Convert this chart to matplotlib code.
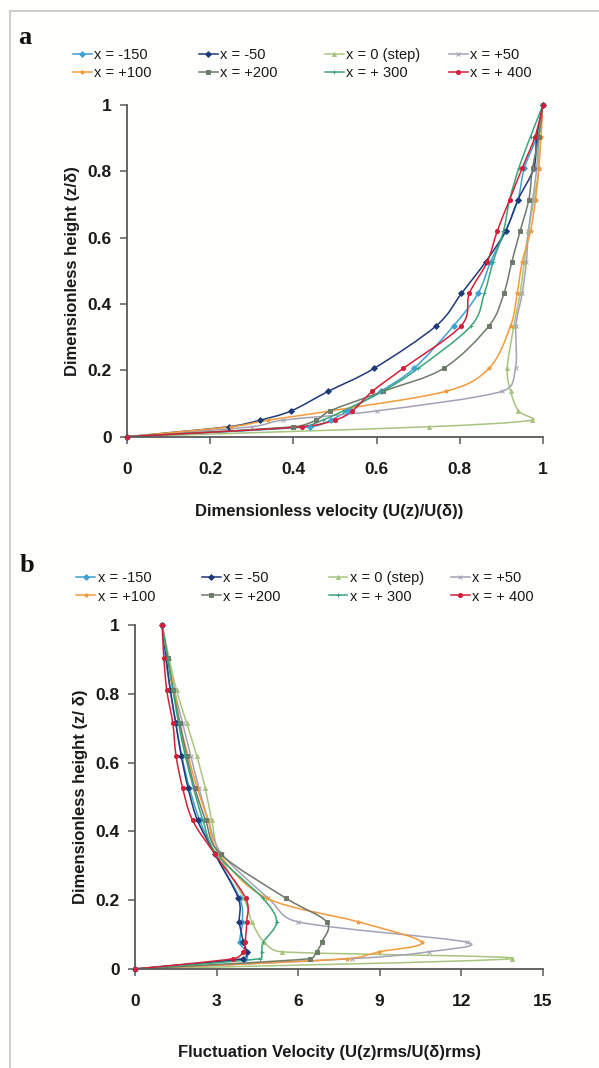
import numpy as np
import matplotlib
matplotlib.use("Agg")
import matplotlib.pyplot as plt
from matplotlib.path import Path
from matplotlib.patches import PathPatch
from matplotlib.lines import Line2D

# ---------------- data ----------------
series_labels = ['x = -150', 'x = -50', 'x = 0 (step)', 'x = +50',
                 'x = +100', 'x = +200', 'x = + 300', 'x = + 400']
series_colors = ['#3fa0d4', '#1f3a78', '#a9c47f', '#a2a2b6',
                 '#f39a3c', '#6e7a6a', '#3aa57a', '#d3203a']
series_markers = ['D', 'D', '^', 'x', '*', 's', '+', 'o']

z_levels = [0, 0.03, 0.05, 0.078, 0.137, 0.206, 0.334, 0.432, 0.527, 0.62, 0.715, 0.81, 0.905, 1.0]

# panel a : dimensionless velocity U(z)/U(delta)
vel_m150 = [0, 0.44, 0.49, 0.53, 0.61, 0.69, 0.785, 0.844, 0.874, 0.91, 0.94, 0.955, 0.985, 1.0]
vel_m50 = [0, 0.244, 0.32, 0.395, 0.484, 0.594, 0.743, 0.804, 0.862, 0.91, 0.94, 0.978, 0.985, 1.0]
vel_step = [0, 0.725, 0.973, 0.941, 0.922, 0.914, 0.93, 0.945, 0.955, 0.965, 0.978, 0.99, 0.99, 1.0]
vel_p50 = [0, 0.30, 0.375, 0.602, 0.902, 0.934, 0.935, 0.95, 0.96, 0.965, 0.975, 0.985, 0.99, 1.0]
vel_p100 = [0, 0.25, 0.34, 0.49, 0.767, 0.870, 0.922, 0.938, 0.95, 0.97, 0.982, 0.99, 0.995, 1.0]
vel_p200 = [0, 0.40, 0.455, 0.488, 0.616, 0.761, 0.870, 0.906, 0.925, 0.945, 0.966, 0.975, 0.99, 1.0]
vel_p300 = [0, 0.42, 0.47, 0.52, 0.615, 0.70, 0.827, 0.859, 0.88, 0.905, 0.92, 0.942, 0.97, 1.0]
vel_p400 = [0, 0.42, 0.50, 0.542, 0.59, 0.664, 0.803, 0.823, 0.866, 0.89, 0.92, 0.95, 0.981, 1.0]

# panel b : fluctuation velocity U(z)rms/U(delta)rms
flu_m150 = [0, 4.05, 4.11, 3.86, 3.95, 3.85, 2.95, 2.38, 2.0, 1.72, 1.5, 1.3, 1.12, 1.0]
flu_m50 = [0, 3.99, 4.11, 3.99, 3.84, 3.80, 2.94, 2.3, 1.95, 1.7, 1.5, 1.3, 1.15, 1.0]
flu_step = [0, 13.86, 5.4, 4.75, 4.3, 4.0, 3.1, 2.82, 2.58, 2.27, 1.9, 1.53, 1.25, 1.0]
flu_p50 = [0, 8.0, 10.8, 12.2, 6.0, 4.9, 3.2, 2.7, 2.35, 2.05, 1.75, 1.45, 1.2, 1.0]
flu_p100 = [0, 7.8, 8.99, 10.55, 8.22, 4.85, 3.1, 2.69, 2.29, 1.95, 1.65, 1.45, 1.2, 1.0]
flu_p200 = [0, 6.44, 6.68, 6.87, 7.05, 5.55, 3.15, 2.6, 2.2, 1.9, 1.65, 1.4, 1.2, 1.0]
flu_p300 = [0, 4.6, 4.66, 4.72, 5.21, 4.7, 3.0, 2.5, 2.15, 1.85, 1.6, 1.4, 1.2, 1.0]
flu_p400 = [0, 3.62, 3.99, 4.05, 4.11, 4.07, 2.94, 2.12, 1.75, 1.51, 1.39, 1.17, 1.06, 1.0]

vel_series = [vel_m150, vel_m50, vel_step, vel_p50, vel_p100, vel_p200, vel_p300, vel_p400]
flu_series = [flu_m150, flu_m50, flu_step, flu_p50, flu_p100, flu_p200, flu_p300, flu_p400]

height_ticks = [0, 0.2, 0.4, 0.6, 0.8, 1.0]
height_tick_labels = ['0', '0.2', '0.4', '0.6', '0.8', '1']
vel_ticks = [0, 0.2, 0.4, 0.6, 0.8, 1.0]
vel_tick_labels = ['0', '0.2', '0.4', '0.6', '0.8', '1']
flu_ticks = [0, 3, 6, 9, 12, 15]
flu_tick_labels = ['0', '3', '6', '9', '12', '15']

# ---------------- style ----------------
plt.rcParams['font.family'] = ['Liberation Sans', 'DejaVu Sans']
W, H = 599, 1068
fig = plt.figure(figsize=(W / 100, H / 100), dpi=100)
fig.patch.set_facecolor('#fefefc')

AXC = '#5a5a5a'


def smooth_path(xs, ys, sx, sy, k=1 / 6.0):
    """Excel-like smoothed line through the points (cubic Bezier segments)."""
    P = np.column_stack([np.asarray(xs, float) * sx, np.asarray(ys, float) * sy])
    n = len(P)
    verts = [P[0]]
    codes = [Path.MOVETO]
    for i in range(n - 1):
        p0 = P[i - 1] if i > 0 else P[i]
        p1, p2 = P[i], P[i + 1]
        p3 = P[i + 2] if i + 2 < n else P[i + 1]
        seg = np.hypot(*(p2 - p1))
        a1 = (p2 - p0) * k
        a2 = (p3 - p1) * k
        l1, l2 = np.hypot(*a1), np.hypot(*a2)
        if l1 > 0.5 * seg:
            a1 = a1 * (0.5 * seg / l1)
        if l2 > 0.5 * seg:
            a2 = a2 * (0.5 * seg / l2)
        verts += [p1 + a1, p2 - a2, p2]
        codes += [Path.CURVE4] * 3
    V = np.array(verts) / [sx, sy]
    return Path(V, codes)


def draw_panel(ax, xseries, xmax, xticks, xticklabels, px_w, px_h, xlabel, ylabel, xl_pos, yl_x):
    sx = px_w / xmax
    sy = px_h / 1.0
    for vals, col, mk in zip(xseries, series_colors, series_markers):
        path = smooth_path(vals, z_levels, sx, sy)
        ax.add_patch(PathPatch(path, facecolor='none', edgecolor=col, lw=1.1, zorder=2))
        ax.plot(vals, z_levels, ls='none', marker=mk, ms=2.9, color=col,
                mec=col, mew=0.7, zorder=3, clip_on=False)
    ax.set_xlim(0, xmax)
    ax.set_ylim(0, 1)
    ax.set_xticks(xticks)
    ax.set_xticklabels(xticklabels)
    ax.set_yticks(height_ticks)
    ax.set_yticklabels(height_tick_labels)
    for s in ['top', 'right']:
        ax.spines[s].set_visible(False)
    for s in ['left', 'bottom']:
        ax.spines[s].set_color(AXC)
        ax.spines[s].set_linewidth(1.3)
    ax.tick_params(axis='both', direction='out', length=5, width=1.1, color=AXC,
                   labelsize=12.5, labelcolor='#1a1a1a')
    ax.tick_params(axis='x', pad=13)
    ax.tick_params(axis='y', pad=6)
    for lab in ax.get_xticklabels() + ax.get_yticklabels():
        lab.set_fontweight('bold')
    ax.set_xlabel(xlabel, fontsize=12, fontweight='bold', color='#1a1a1a')
    ax.set_ylabel(ylabel, fontsize=12, fontweight='bold', color='#1a1a1a')
    ax.xaxis.set_label_coords(xl_pos[0], xl_pos[1])
    ax.yaxis.set_label_coords(yl_x, 0.5)
    ax.set_facecolor('none')


def add_legends(handle_xs, y_center):
    for c in range(4):
        hs = []
        for idx in (c, c + 4):
            hs.append(Line2D([], [], color=series_colors[idx], lw=1.1,
                             marker=series_markers[idx], ms=2.9, mew=0.7,
                             label=series_labels[idx]))
        fig.legend(handles=hs, loc='center left',
                   bbox_to_anchor=(handle_xs[c] / W, 1 - y_center / H),
                   bbox_transform=fig.transFigure, frameon=False,
                   fontsize=10.5, handlelength=1.3, handletextpad=0.15,
                   borderpad=0, borderaxespad=0, labelspacing=0.28,
                   numpoints=1, labelcolor='#1a1a1a')


# panel a  (axes: x 127..543 px, y 105..436.7 px)
axa = fig.add_axes([127 / W, 1 - 436.7 / H, 416 / W, 331.7 / H])
draw_panel(axa, vel_series, 1.0, vel_ticks, vel_tick_labels, 416, 331.7,
           'Dimensionless velocity (U(z)/U(\u03b4))', 'Dimensionless height (z/\u03b4)',
           (0.485, -0.203), -0.113)

# panel b  (axes: x 135..542.7 px, y 625..969 px)
axb = fig.add_axes([135 / W, 1 - 969 / H, 407.7 / W, 344 / H])
draw_panel(axb, flu_series, 15.0, flu_ticks, flu_tick_labels, 407.7, 344,
           'Fluctuation Velocity (U(z)rms/U(\u03b4)rms)', 'Dimensionless height (z/ \u03b4)',
           (0.477, -0.221), -0.115)

add_legends([72.6, 198.6, 324.7, 448.8], 64)
add_legends([76.4, 201.7, 328.5, 450.7], 587.5)

# panel letters
fig.text(25 / W, 1 - 37 / H, 'a', fontsize=19, fontweight='bold',
         family='Liberation Serif', ha='center', va='center', color='#111111')
fig.text(27 / W, 1 - 566 / H, 'b', fontsize=19, fontweight='bold',
         family='Liberation Serif', ha='center', va='center', color='#111111')

# frame of the scanned figure (left and top edges)
fig.add_artist(Line2D([9.5 / W, 9.5 / W], [0, 1 - 11 / H], transform=fig.transFigure,
                      color='#c4c4c4', lw=1.2))
fig.add_artist(Line2D([9.5 / W, 1], [1 - 11 / H, 1 - 11 / H], transform=fig.transFigure,
                      color='#c4c4c4', lw=1.2))

fig.savefig('out.png', dpi=100, facecolor=fig.get_facecolor())
